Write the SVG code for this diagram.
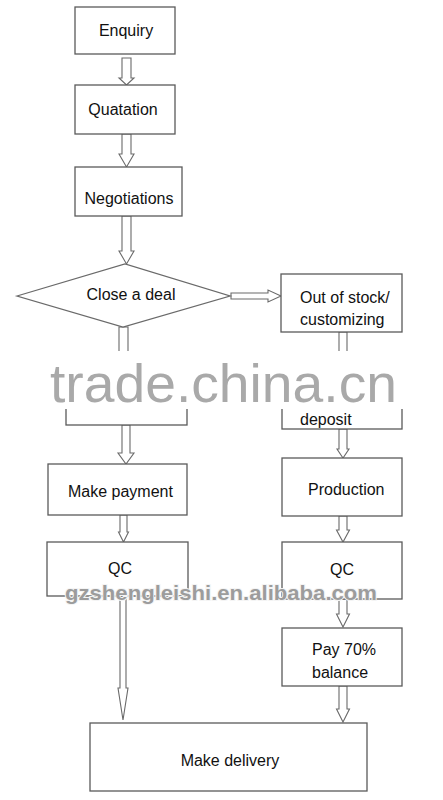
<svg xmlns="http://www.w3.org/2000/svg" width="443" height="800" viewBox="0 0 443 800">
<style>
.box{fill:#fff;stroke:#5a5a5a;stroke-width:1.3}
.dia{fill:#fff;stroke:#6a6a6a;stroke-width:1.3}
.arr{fill:#fff;stroke:#6a6a6a;stroke-width:1.1;stroke-linejoin:miter}
.t{font-family:"Liberation Sans",Arial,sans-serif;font-size:16px;fill:#111}
.m{text-anchor:middle}
.wm1{font-family:"Liberation Sans",Arial,sans-serif;font-size:54px;fill:#a9a9a9}
.wm2{font-family:"Liberation Sans",Arial,sans-serif;font-size:21px;font-weight:bold;fill:#9c9c9c;stroke:#f4f4f4;stroke-width:2;paint-order:stroke}
</style>
<rect width="443" height="800" fill="#fff"/>

<g id="connectors">
  <path class="arr" d="M122,58 L131,58 L131,78 L134,78 L126.5,85 L119,78 L122,78 Z"/>
  <path class="arr" d="M122,134 L131,134 L131,154 L134,154 L126.5,167 L119,154 L122,154 Z"/>
  <path class="arr" d="M122,216 L131,216 L131,251 L134,251 L126.5,264 L119,251 L122,251 Z"/>
  <path class="arr" d="M231,293 L268,293 L268,290 L281,296 L268,302 L268,299 L231,299 Z"/>
  <path class="arr" d="M119,327 L128,327 L128,362 L119,362 Z"/>
  <path class="arr" d="M339,332 L347,332 L347,362 L339,362 Z"/>
  <path class="arr" d="M122,425 L130,425 L130,453 L134,453 L126,464 L118,453 L122,453 Z"/>
  <path class="arr" d="M120,515 L127,515 L127,532 L128.5,532 L123.5,542 L118.5,532 L120,532 Z"/>
  <path class="arr" d="M120,596 L126,596 L126,688 L128,688 L123,720 L118,688 L120,688 Z"/>
  <path class="arr" d="M339,429 L347,429 L347,449 L349,449 L343,458 L337,449 L339,449 Z"/>
  <path class="arr" d="M339,516 L347,516 L347,530 L349.5,530 L343,542 L336.5,530 L339,530 Z"/>
  <path class="arr" d="M339,599 L347,599 L347,614 L349.5,614 L343,627 L336.5,614 L339,614 Z"/>
  <path class="arr" d="M339,686 L347,686 L347,709 L349.5,709 L343,722 L336.5,709 L339,709 Z"/>
</g>

<g id="enquiry">
  <rect class="box" x="75" y="7" width="100" height="47"/>
  <text class="t m" x="126" y="36">Enquiry</text>
</g>
<g id="quatation">
  <rect class="box" x="75" y="85" width="100" height="49"/>
  <text class="t m" x="123" y="115">Quatation</text>
</g>
<g id="negotiations">
  <rect class="box" x="75" y="167" width="107" height="49"/>
  <text class="t m" x="129" y="204">Negotiations</text>
</g>
<g id="close-deal">
  <polygon class="dia" points="17,296 125,264 230,296 123,327"/>
  <text class="t m" x="131" y="300">Close a deal</text>
</g>
<g id="out-of-stock">
  <rect class="box" x="281" y="274" width="121" height="58"/>
  <text class="t" x="300" y="303">Out of stock/</text>
  <text class="t" x="300" y="325">customizing</text>
</g>
<g id="left-hidden">
  <rect class="box" x="66" y="362" width="121" height="63"/>
</g>
<g id="deposit-box">
  <rect class="box" x="282" y="362" width="120" height="67"/>
</g>
<g id="make-payment">
  <rect class="box" x="48" y="464" width="139" height="51"/>
  <text class="t" x="68" y="497">Make payment</text>
</g>
<g id="production">
  <rect class="box" x="282" y="458" width="120" height="58"/>
  <text class="t" x="308" y="495">Production</text>
</g>
<g id="qc-left">
  <rect class="box" x="47" y="542" width="141" height="54"/>
  <text class="t m" x="120" y="574">QC</text>
</g>
<g id="qc-right">
  <rect class="box" x="282" y="542" width="120" height="57"/>
  <text class="t m" x="342" y="575">QC</text>
</g>
<g id="pay-balance">
  <rect class="box" x="282" y="628" width="120" height="58"/>
  <text class="t" x="312" y="655">Pay 70%</text>
  <text class="t" x="312" y="678">balance</text>
</g>
<g id="make-delivery">
  <rect class="box" x="90" y="723" width="277" height="68"/>
  <text class="t m" x="230" y="766">Make delivery</text>
</g>

<g id="watermarks">
  <rect x="40" y="351" width="375" height="58" fill="#fff"/>
  <text class="wm1" x="50" y="402" textLength="347" lengthAdjust="spacingAndGlyphs">trade.china.cn</text>
  <text class="wm2" x="65" y="600" textLength="312" lengthAdjust="spacingAndGlyphs">gzshengleishi.en.alibaba.com</text>
</g>
<g id="deposit-label">
  <text class="t" x="300" y="425">deposit</text>
</g>
</svg>
